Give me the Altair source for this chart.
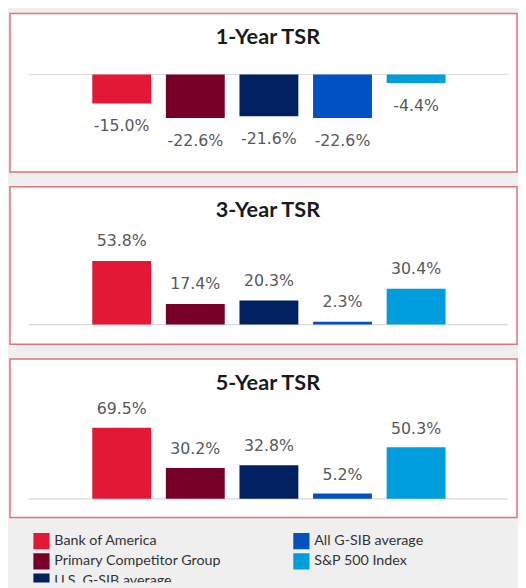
import altair as alt
import pandas as pd

categories = ["Bank of America", "Primary Competitor Group", "U.S. G-SIB average",
              "All G-SIB average", "S&P 500 Index"]
colors = ["#e31837", "#780028", "#01205f", "#0052c4", "#009ddc"]
tsr_1y = [-15.0, -22.6, -21.6, -22.6, -4.4]
tsr_3y = [53.8, 17.4, 20.3, 2.3, 30.4]
tsr_5y = [69.5, 30.2, 32.8, 5.2, 50.3]
panel_titles = ["1-Year TSR", "3-Year TSR", "5-Year TSR"]
legend_cols = [0, 0, 0, 1, 1]
legend_rows = [0, 1, 2, 0, 1]

color_enc = alt.Color("category:N", scale=alt.Scale(domain=categories, range=colors), legend=None)
x_scale = alt.Scale(domain=categories, range=[68.65, 457.35], paddingInner=0.2, paddingOuter=0.2)


def panel(title, values, ydomain, height, label_dy):
    df = pd.DataFrame({"category": categories, "value": values,
                       "label": [f"{v:.1f}%" for v in values]})
    base = alt.Chart(df)
    x = alt.X("category:N", sort=categories, scale=x_scale, axis=None)
    y = alt.Y("value:Q", scale=alt.Scale(domain=ydomain, nice=False), axis=None)
    rule = alt.Chart(pd.DataFrame({"zero": [0]})).mark_rule(color="#d9d9d9", strokeWidth=1.2).encode(
        x=alt.value(19), x2=alt.value(506), y=alt.Y("zero:Q", axis=None))
    bars = base.mark_bar().encode(x=x, y=y, color=color_enc)
    labels = base.mark_text(dy=label_dy, font="DejaVu Sans", fontSize=16, color="#595959").encode(
        x=x, y=y, text="label:N")
    ttl = alt.Chart(pd.DataFrame({"t": [title]})).mark_text(
        font="Lato", fontSize=22, fontWeight="bold", color="#1a1a1a").encode(
        x=alt.value(262), y=alt.value(24), text="t:N")
    return alt.layer(rule, bars, labels, ttl).properties(
        width=515, height=height,
        view=alt.ViewBackground(fill="white", stroke="#e0737c", strokeWidth=1.5))


p1 = panel(panel_titles[0], tsr_1y, [-50.5, 31.6], 161, 23)
p2 = panel(panel_titles[1], tsr_3y, [-16.7, 116.7], 160, -20)
p3 = panel(panel_titles[2], tsr_5y, [-18.3, 136.5], 161, -19)

ldf = pd.DataFrame({"category": categories, "lcol": legend_cols, "lrow": legend_rows})
lx = alt.X("lcol:Q", scale=alt.Scale(domain=[0, 1], range=[32, 296]), axis=None)
ly = alt.Y("lrow:Q", scale=alt.Scale(domain=[0, 2], range=[9, 50]), axis=None)
lsq = alt.Chart(ldf).mark_square(size=270, opacity=1, clip=True).encode(x=lx, y=ly, color=color_enc)
ltxt = alt.Chart(ldf).mark_text(align="left", dx=13, font="Lato", fontSize=14.5, color="#333333",
                                clip=True).encode(x=lx, y=ly, text="category:N")
leg = alt.layer(lsq, ltxt).properties(width=515, height=51,
                                      view=alt.ViewBackground(stroke="transparent"))

chart = alt.vconcat(p1, p2, p3, leg, spacing=13).resolve_scale(
    x="independent", y="independent").properties(
    padding={"left": 1, "top": 0, "right": 0, "bottom": 0}, background="#efefef")

chart.save("out.html", embed_options={"renderer": "svg", "actions": False})
